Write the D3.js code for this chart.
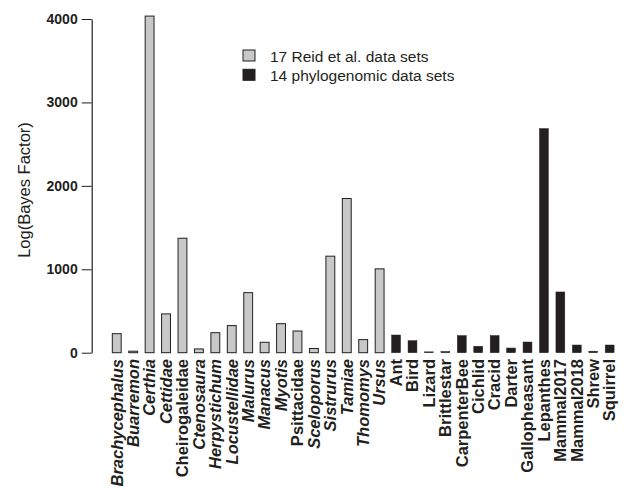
<!DOCTYPE html>
<html>
<head>
<meta charset="utf-8">
<script src="https://cdn.jsdelivr.net/npm/d3@7"></script>
<style>
  html, body { margin: 0; padding: 0; background: #fff; }
  svg { display: block; font-family: "Liberation Sans", Arial, Helvetica, sans-serif; }
</style>
</head>
<body>
<svg id="chart" width="627" height="490"></svg>
<script>
// ---- data ----
const reidNames = ["Brachycephalus","Buarremon","Certhia","Cettidae","Cheirogaleidae","Ctenosaura","Herpystichum","Locustellidae","Malurus","Manacus","Myotis","Psittacidae","Sceloporus","Sistrurus","Tamiae","Thomomys","Ursus"];
const reidValues = [228, 18, 4035, 465, 1372, 45, 240, 325, 720, 125, 348, 260, 50, 1157, 1848, 157, 1005];
const phyloNames = ["Ant","Bird","Lizard","Brittlestar","CarpenterBee","Cichlid","Cracid","Darter","Gallopheasant","Lepanthes","Mammal2017","Mammal2018","Shrew","Squirrel"];
const phyloValues = [212, 144, 10, 14, 205, 77, 205, 56, 128, 2686, 728, 92, 18, 92];
const italicNames = ["Brachycephalus","Buarremon","Certhia","Cettidae","Ctenosaura","Herpystichum","Locustellidae","Malurus","Manacus","Myotis","Sceloporus","Sistrurus","Tamiae","Thomomys","Ursus"];
const yTicks = [0, 1000, 2000, 3000, 4000];
const seriesLabels = ["17 Reid et al. data sets", "14 phylogenomic data sets"];
const seriesColors = ["#c8c8c8", "#231f20"];

const data = reidNames.map((n, i) => ({name: n, value: reidValues[i], s: 0}))
  .concat(phyloNames.map((n, i) => ({name: n, value: phyloValues[i], s: 1})));

// ---- chart ----
const svg = d3.select("#chart");
const dark = "#231f20";

const x = d3.scaleBand().domain(data.map(d => d.name)).range([108.2, 618.2]).paddingInner(0.46).paddingOuter(0.25);
const y = d3.scaleLinear().domain([0, 4000]).range([352.7, 19]);

// bars
svg.append("g").selectAll("rect").data(data).join("rect")
  .attr("x", d => x(d.name))
  .attr("y", d => y(d.value))
  .attr("width", x.bandwidth())
  .attr("height", d => y(0) - y(d.value))
  .attr("fill", d => seriesColors[d.s])
  .attr("stroke", dark)
  .attr("stroke-width", d => d.s === 0 ? 1 : 0.5);

// y axis
const yAxis = d3.axisLeft(y).tickValues(yTicks).tickFormat(d3.format("d")).tickSize(10).tickPadding(4).tickSizeOuter(0);
const gy = svg.append("g").attr("transform", "translate(91.7,0)").call(yAxis);
gy.select(".domain").attr("stroke", dark).attr("stroke-width", 1.2);
gy.selectAll(".tick line").attr("stroke", dark).attr("stroke-width", 1);
gy.selectAll(".tick text").attr("fill", dark).attr("font-size", 14).attr("font-weight", "bold")
  .attr("font-family", "'Liberation Sans', Arial, sans-serif");

// y axis title
svg.append("text")
  .attr("transform", "translate(30,190) rotate(-90)")
  .attr("text-anchor", "middle")
  .attr("font-size", 16.5)
  .attr("fill", dark)
  .text("Log(Bayes Factor)");

// x labels
svg.append("g").selectAll("text").data(data).join("text")
  .attr("transform", d => `translate(${x(d.name) + x.bandwidth() / 2},359) rotate(-90)`)
  .attr("dy", "0.35em")
  .attr("text-anchor", "end")
  .attr("font-size", 16.5)
  .attr("font-weight", "bold")
  .attr("font-style", d => italicNames.includes(d.name) ? "italic" : "normal")
  .attr("fill", dark)
  .text(d => d.name);

// legend
const lg = svg.append("g");
seriesLabels.forEach((lab, i) => {
  lg.append("rect")
    .attr("x", 243).attr("y", 50 + i * 19.3)
    .attr("width", 12).attr("height", 11)
    .attr("fill", seriesColors[i])
    .attr("stroke", dark).attr("stroke-width", 1);
  lg.append("text")
    .attr("x", 270).attr("y", 61.5 + i * 19.3)
    .attr("font-size", 15.5)
    .attr("fill", dark)
    .text(lab);
});
</script>
</body>
</html>
